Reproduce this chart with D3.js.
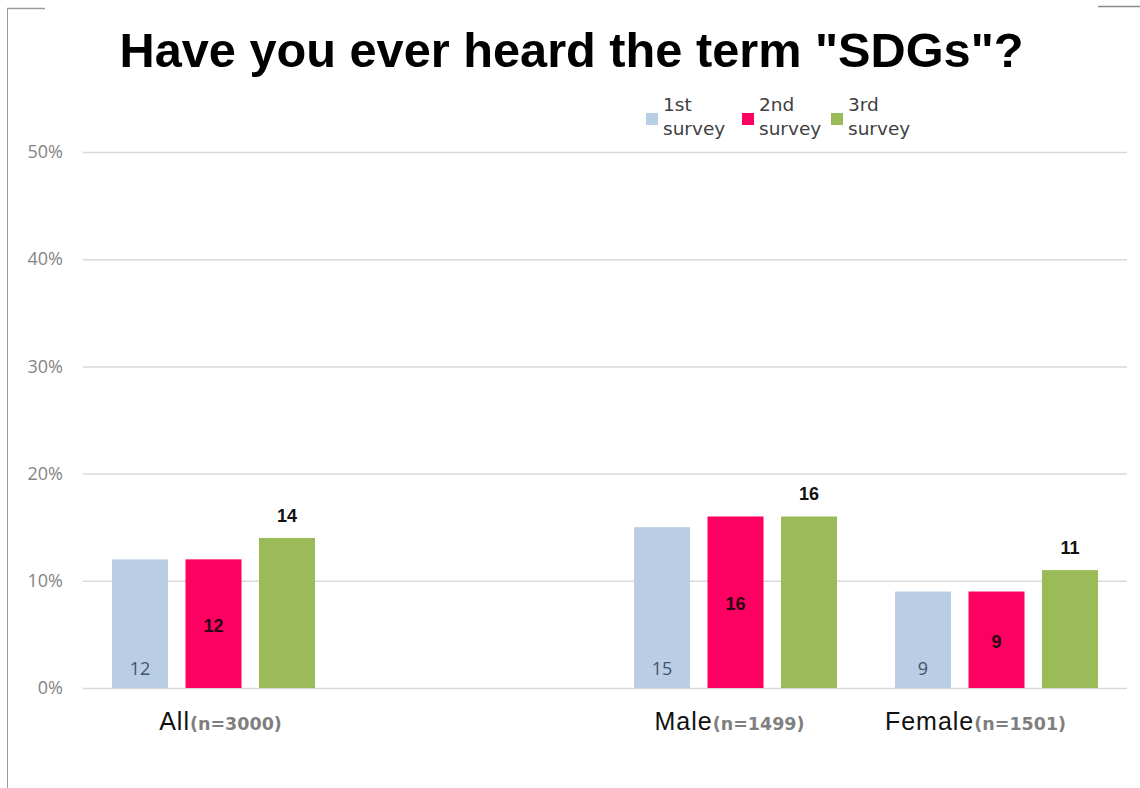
<!DOCTYPE html>
<html>
<head>
<meta charset="utf-8">
<script src="https://cdn.jsdelivr.net/npm/d3@7"></script>
<style>
  html, body { margin: 0; padding: 0; background: #ffffff; }
  svg { display: block; }
</style>
</head>
<body>
<svg id="chart" width="1140" height="788"></svg>
<script>
// ---- data ----
const title = 'Have you ever heard the term "SDGs"?';
const categories = ["All", "", "Male", "Female"];
const sampleSizes = ["(n=3000)", "", "(n=1499)", "(n=1501)"];
const seriesNames = ["1st survey", "2nd survey", "3rd survey"];
const survey1 = [12, null, 15, 9];
const survey2 = [12, null, 16, 9];
const survey3 = [14, null, 16, 11];
const yTicks = [0, 10, 20, 30, 40, 50];

// ---- layout / style ----
const colors = ["#b9cde4", "#fe0062", "#9bbb59"];
const labelShift = [7, 0, -6, -21];
const margin = { left: 83, right: 1127, top: 152, bottom: 688 };

const svg = d3.select("#chart");
const W = 1140, H = 788;

// frame lines
svg.append("line").attr("x1", 7.5).attr("x2", 7.5).attr("y1", 8).attr("y2", H)
  .attr("stroke", "#9a9a9a").attr("stroke-width", 1);
svg.append("line").attr("x1", 7).attr("x2", 45).attr("y1", 8.5).attr("y2", 8.5)
  .attr("stroke", "#9a9a9a").attr("stroke-width", 1.5);
svg.append("line").attr("x1", 1098).attr("x2", W).attr("y1", 6.5).attr("y2", 6.5)
  .attr("stroke", "#8a8a8a").attr("stroke-width", 1.5);

// title
svg.append("text").attr("x", 571.5).attr("y", 67)
  .attr("text-anchor", "middle")
  .attr("font-family", "Liberation Sans, Arial, sans-serif")
  .attr("font-weight", "bold").attr("font-size", 48.7).attr("fill", "#000")
  .text(title);

// scales
const keys = categories.map((c, i) => "k" + i);
const x0 = d3.scaleBand().domain(keys).range([margin.left, margin.right]).paddingInner(0).paddingOuter(0);
const x1 = d3.scaleBand().domain(seriesNames).range([0, x0.bandwidth()]).paddingInner(0.238).paddingOuter(0.395);
const y = d3.scaleLinear().domain([0, 50]).range([margin.bottom, margin.top]);

// gridlines + y labels via axis
const yAxis = d3.axisLeft(y).tickValues(yTicks).tickFormat(d => d + "%")
  .tickSize(-(margin.right - margin.left)).tickPadding(20);
const gy = svg.append("g").attr("transform", `translate(${margin.left},0)`).call(yAxis);
gy.select(".domain").remove();
gy.selectAll(".tick line").attr("stroke", "#d9d9d9").attr("stroke-width", 1.5);
gy.selectAll(".tick text")
  .attr("font-family", "Open Sans, Liberation Sans, sans-serif")
  .attr("font-size", 18).attr("fill", "#858585");

// bars
const seriesData = [survey1, survey2, survey3];
const rows = [];
categories.forEach((c, i) => {
  seriesData.forEach((s, j) => {
    if (s[i] != null) rows.push({ key: keys[i], series: seriesNames[j], j, v: s[i] });
  });
});

svg.append("g").selectAll("rect").data(rows).join("rect")
  .attr("x", d => x0(d.key) + x1(d.series))
  .attr("y", d => y(d.v))
  .attr("width", x1.bandwidth())
  .attr("height", d => y(0) - y(d.v))
  .attr("fill", d => colors[d.j]);

// value labels
const lab = svg.append("g").attr("text-anchor", "middle");
lab.selectAll("text").data(rows).join("text")
  .attr("x", d => x0(d.key) + x1(d.series) + x1.bandwidth() / 2)
  .attr("y", d => {
    if (d.j === 0) return y(0) - 13;
    if (d.j === 1) return (y(d.v) + y(0)) / 2 + 8;
    return y(d.v) - 16;
  })
  .attr("font-family", d => d.j === 0 ? "Open Sans, Liberation Sans, sans-serif" : "Liberation Sans, Arial, sans-serif")
  .attr("font-weight", d => d.j === 0 ? "normal" : "bold")
  .attr("font-size", 18)
  .attr("fill", d => d.j === 0 ? "#44546a" : (d.j === 1 ? "#2a0512" : "#111"))
  .text(d => d.v);

// x category labels
const xl = svg.append("g");
categories.forEach((c, i) => {
  if (!c) return;
  const t = xl.append("text")
    .attr("x", x0(keys[i]) + x0.bandwidth() / 2 + labelShift[i])
    .attr("y", 730)
    .attr("text-anchor", "middle");
  t.append("tspan").attr("font-family", "Liberation Sans, Arial, sans-serif")
    .attr("font-size", 25).attr("letter-spacing", 1).attr("fill", "#111").text(c);
  t.append("tspan").attr("font-family", "DejaVu Sans, sans-serif")
    .attr("font-weight", "bold").attr("font-size", 17.5).attr("fill", "#7f7f7f").text(sampleSizes[i]);
});

// legend
const legX = [646, 742, 831];
const leg = svg.append("g");
seriesNames.forEach((s, j) => {
  const g = leg.append("g").attr("transform", `translate(${legX[j]},0)`);
  g.append("rect").attr("x", 0).attr("y", 113).attr("width", 12).attr("height", 12).attr("fill", colors[j]);
  const parts = s.split(" ");
  const t = g.append("text").attr("font-family", "DejaVu Sans, sans-serif")
    .attr("font-size", 18.5).attr("fill", "#404040");
  parts.forEach((p, k) => {
    t.append("tspan").attr("x", 17).attr("y", 111 + k * 24).text(p);
  });
});
</script>
</body>
</html>
